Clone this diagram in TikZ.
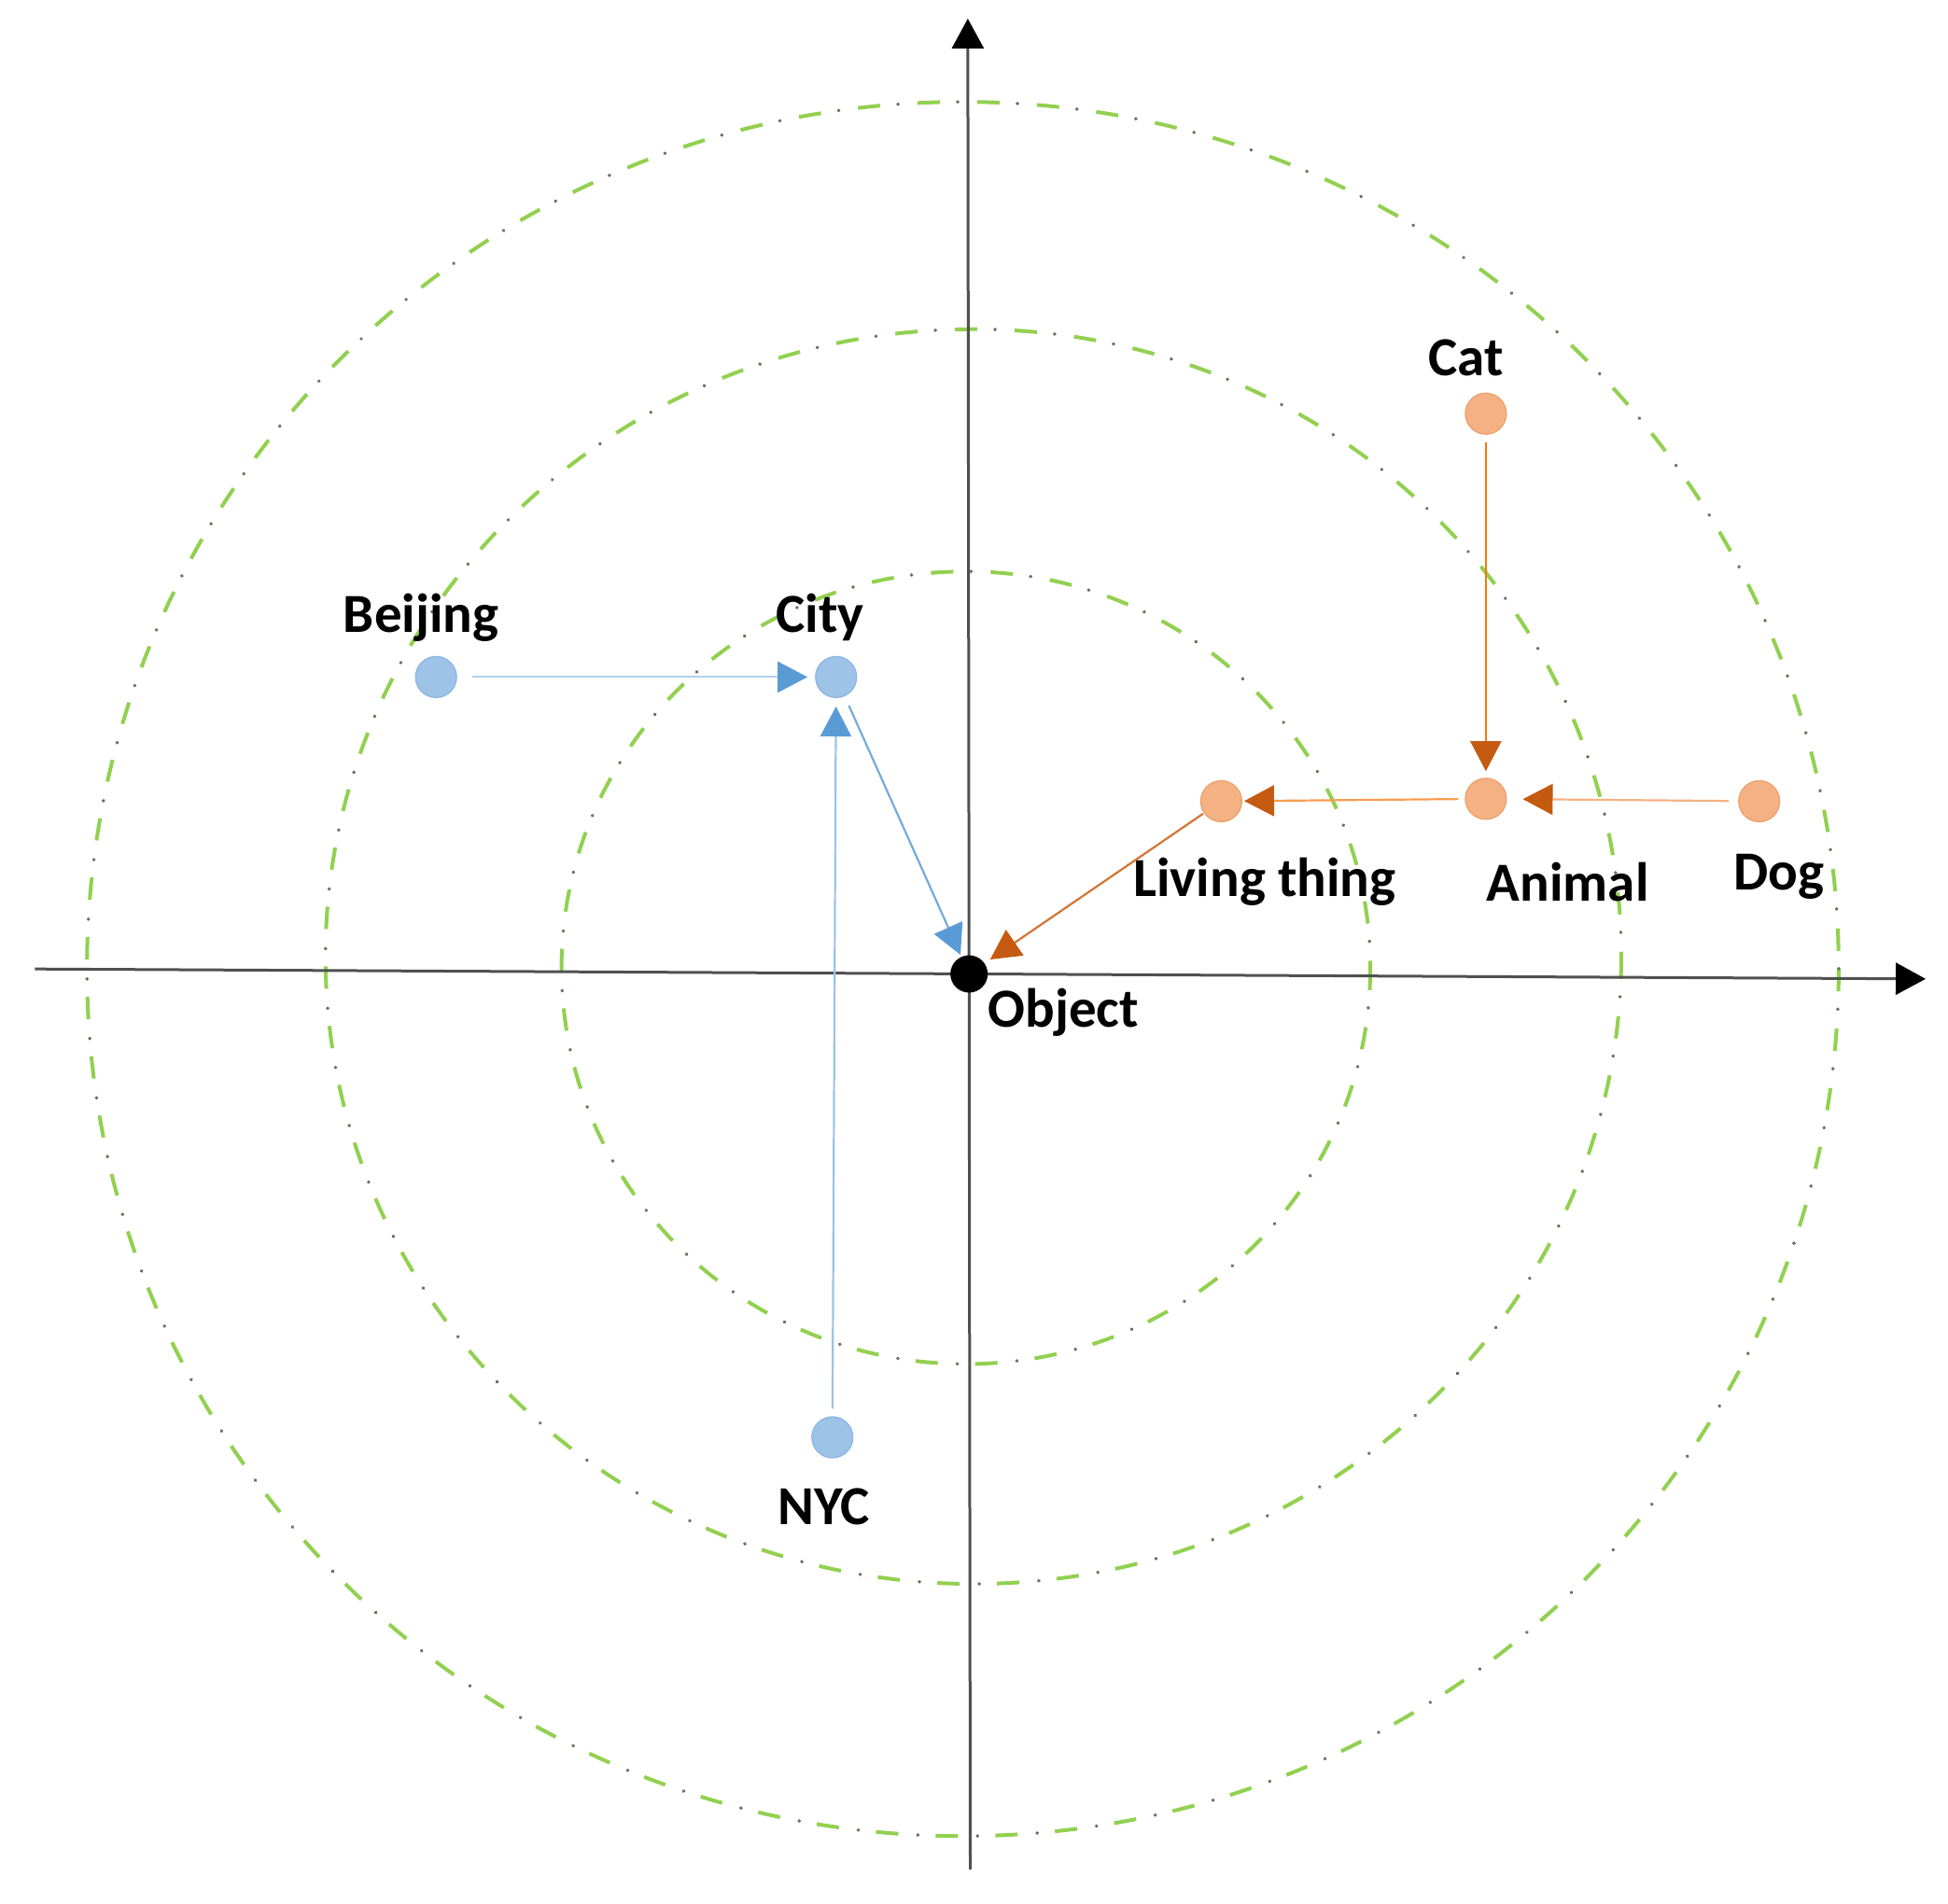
\documentclass[tikz,border=0pt]{standalone}
\usepackage{fontspec}
\setmainfont{Carlito}
\usetikzlibrary{arrows.meta}
\definecolor{grn}{HTML}{92D050}
\definecolor{dotgray}{HTML}{6B7060}
\definecolor{axisgray}{HTML}{505050}
\definecolor{bfill}{HTML}{9DC3E6}
\definecolor{bedge}{HTML}{8EB4E3}
\definecolor{bhead}{HTML}{5B9BD5}
\definecolor{ofill}{HTML}{F4B183}
\definecolor{oedge}{HTML}{EDA06A}
\definecolor{ohead}{HTML}{C55A11}
\begin{document}
\begin{tikzpicture}[x=0.6655pt,y=-0.6655pt,
  ring/.style={grn, line width=2pt, dash pattern=on 12pt off 20pt},
  ringdot/.style={dotgray, line width=1.9pt, line cap=round, dash pattern=on 0.1pt off 31.9pt, dash phase=10.5pt},
  axis/.style={axisgray, line width=1.5pt, -{Triangle[length=16pt,width=17pt,black]}},
  bdot/.style={circle, fill=bfill, draw=bedge, line width=0.6pt, minimum size=22pt, inner sep=0pt},
  odot/.style={circle, fill=ofill, draw=oedge, line width=0.6pt, minimum size=22pt, inner sep=0pt},
  objdot/.style={circle, fill=black, minimum size=20pt, inner sep=0pt},
  lbl/.style={font=\fontsize{29.5}{34}\selectfont\bfseries, text=black, inner sep=0pt},
  barrow/.style={line width=1.1pt, -{Triangle[length=16pt,width=16.5pt,bhead]}},
  oarrow/.style={line width=1.1pt, -{Triangle[length=16pt,width=16.5pt,ohead]}}]
\useasboundingbox (0,0) rectangle (1568,1532);
% rings
\draw[ring] (777.5,779) ellipse [x radius=325.5, y radius=319];
\draw[ringdot] (777.5,779) ellipse [x radius=325.5, y radius=319];
\draw[ring] (783.5,770) ellipse [x radius=521.5, y radius=505];
\draw[ringdot] (783.5,770) ellipse [x radius=521.5, y radius=505];
\draw[ring] (775,780) ellipse [x radius=705, y radius=698];
\draw[ringdot] (775,780) ellipse [x radius=705, y radius=698];
% axes
\coordinate (xl) at (28,780);
\coordinate (xr) at (1550,788);
\coordinate (yb) at (781,1505);
\coordinate (yt) at (779,15);
\draw[axis] (xl) -- (xr);
\draw[axis] (yb) -- (yt);
% nodes
\node[bdot] (bj) at (351,545) {};
\node[bdot] (city) at (673,545) {};
\node[bdot] (nyc) at (670,1157) {};
\node[odot] (cat) at (1196,333) {};
\node[odot] (animal) at (1196,643) {};
\node[odot] (dog) at (1416,645) {};
\node[odot] (living) at (983,645) {};
\node[objdot] (obj) at (780,784) {};
% labels
\node[lbl] (lbj) at (339,497) {Beijing};
\node[lbl] (lcity) at (660,497) {City};
\node[lbl] (lnyc) at (663,1213) {NYC};
\node[lbl] (lcat) at (1180,288) {Cat};
\node[lbl] (lliving) at (1018,710) {Living thing};
\node[lbl] (lanimal) at (1262,710) {Animal};
\node[lbl] (ldog) at (1432,706) {Dog};
\node[lbl] (lobj) at (856,815) {Object};
% blue connectors
\draw[barrow, color=bfill!80!white, shorten <=8pt, shorten >=4pt] (bj) -- (city);
\draw[barrow, color=bfill, shorten <=4pt, shorten >=4.5pt] (nyc) -- (city);
\draw[barrow, color=bhead!85!white, shorten <=5.5pt, shorten >=1pt] (city) -- (obj);
% orange connectors
\draw[oarrow, color=orange!85!ohead, shorten <=4pt, shorten >=3.5pt] (cat) -- (animal);
\draw[oarrow, color=ofill, shorten <=5pt, shorten >=8.5pt] (dog) -- (animal);
\draw[oarrow, color=ofill!60!orange, shorten <=3.5pt, shorten >=1pt] (animal) -- (living);
\draw[oarrow, color=ohead!70!ofill, shorten <=0.5pt, shorten >=3.5pt] (living) -- (obj);
\end{tikzpicture}
\end{document}
